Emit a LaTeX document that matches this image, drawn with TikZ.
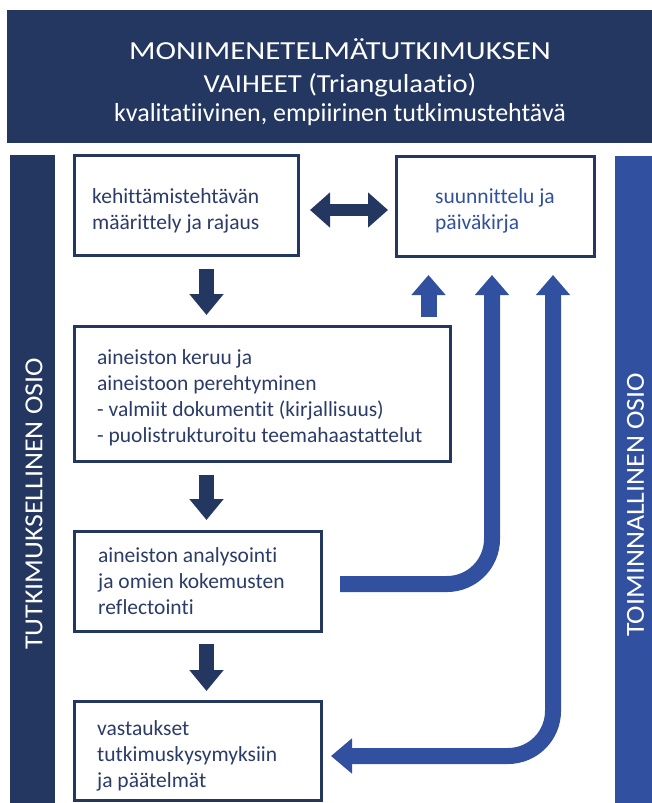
\documentclass[tikz,border=0pt]{standalone}
\usepackage{fontspec}
\setmainfont[Ligatures=NoCommon]{Carlito}
\newfontfamily\titleA[FakeStretch=1.19,Ligatures=NoCommon]{Carlito}
\newfontfamily\titleB[FakeStretch=1.1,Ligatures=NoCommon]{Carlito}
\newfontfamily\sidefont[FakeStretch=1.07,Ligatures=NoCommon]{Carlito}
\usetikzlibrary{arrows.meta}
\definecolor{navy}{HTML}{243761}
\definecolor{bblue}{HTML}{3250A0}
\definecolor{tnavy}{HTML}{2C3C68}
\tikzset{
  box/.style={draw=navy, line width=3pt, fill=white, inner sep=0pt, outer sep=0pt},
  boxtext/.style={anchor=base west, align=left, inner sep=0pt, text=tnavy, font=\fontsize{21.5}{26}\selectfont},
  navyarrow/.style={draw=navy, line width=15pt, -{Triangle[length=21pt,width=33pt]}},
  navydouble/.style={draw=navy, line width=12pt, {Triangle[length=20pt,width=34pt]}-{Triangle[length=20pt,width=34pt]}},
  bluearrow/.style={draw=bblue, line width=16pt, -{Triangle[length=20pt,width=33pt]}},
  bluedouble/.style={draw=bblue, line width=16pt, {Triangle[length=21pt,width=34pt]}-{Triangle[length=20pt,width=33pt]}},
  sidelabel/.style={text=white, rotate=90, inner sep=0pt, font=\sidefont\fontsize{26}{30}\selectfont},
  titletext/.style={text=white, anchor=base, inner sep=0pt}
}
\begin{document}
\begin{tikzpicture}[x=1pt,y=-1pt]
\useasboundingbox (0,0) rectangle (652,803);
\fill[white] (0,0) rectangle (652,803);
% banner
\node[fill=navy, inner sep=0pt, outer sep=0pt, minimum width=645pt, minimum height=133pt] (banner) at (329.5,76.5) {};
\node[titletext, font=\titleA\fontsize{26}{30}\selectfont] (t1) at (340,59) {MONIMENETELMÄTUTKIMUKSEN};
\node[titletext, font=\titleB\fontsize{26}{30}\selectfont] (t2) at (340,92) {VAIHEET (Triangulaatio)};
\node[titletext, font=\fontsize{26}{30}\selectfont] (t3) at (340,121) {kvalitatiivinen, empiirinen tutkimustehtävä};
% side bars
\node[fill=navy, inner sep=0pt, outer sep=0pt, minimum width=45pt, minimum height=648pt] (lbar) at (32.5,479) {};
\node[fill=bblue, inner sep=0pt, outer sep=0pt, minimum width=37pt, minimum height=647pt] (rbar) at (633.5,479.5) {};
\node[sidelabel] (llab) at (34,504) {TUTKIMUKSELLINEN OSIO};
\node[sidelabel] (rlab) at (635.5,505) {TOIMINNALLINEN OSIO};
% boxes
\node[box, minimum width=224pt, minimum height=100pt] (b1) at (186.5,205.5) {};
\node[box, minimum width=198pt, minimum height=100pt] (bs) at (495.5,206.5) {};
\node[box, minimum width=376pt, minimum height=135pt] (b2) at (262.5,394) {};
\node[box, minimum width=247pt, minimum height=100pt] (b3) at (198,581.5) {};
\node[box, minimum width=247pt, minimum height=99pt] (b4) at (198,751) {};
% texts (anchor = baseline of last line)
\node[boxtext] (tx1) at (92,229) {kehittämistehtävän\\määrittely ja rajaus};
\node[boxtext, text=bblue] (txs) at (435,229) {suunnittelu ja\\päiväkirja};
\node[boxtext] (tx2) at (97,442) {aineiston keruu ja\\aineistoon perehtyminen\\- valmiit dokumentit (kirjallisuus)\\- puolistrukturoitu teemahaastattelut};
\node[boxtext] (tx3) at (98,614) {aineiston analysointi\\ja omien kokemusten\\reflectointi};
\node[boxtext] (tx4) at (97,787) {vastaukset\\tutkimuskysymyksiin\\ja päätelmät};
% arrow end points
\coordinate (d1s) at (206.5,269); \coordinate (d1e) at (206.5,315);
\coordinate (d2s) at (206.5,475); \coordinate (d2e) at (206.5,520);
\coordinate (d3s) at (206.5,644); \coordinate (d3e) at (206.5,691);
\coordinate (hl) at (310,210); \coordinate (hr) at (388,210);
\coordinate (u1s) at (428.5,317); \coordinate (u1e) at (428.5,275);
\coordinate (u2s) at (340,584); \coordinate (u2c) at (492,584); \coordinate (u2e) at (492,275);
\coordinate (u3l) at (331,756); \coordinate (u3c) at (553,756); \coordinate (u3e) at (553,275);
% arrows
\draw[navyarrow] (d1s) -- (d1e);
\draw[navyarrow] (d2s) -- (d2e);
\draw[navyarrow] (d3s) -- (d3e);
\draw[navydouble] (hl) -- (hr);
\draw[bluearrow] (u1s) -- (u1e);
\draw[bluearrow, rounded corners=45pt] (u2s) -- (u2c) -- (u2e);
\draw[bluedouble, rounded corners=45pt] (u3l) -- (u3c) -- (u3e);
\end{tikzpicture}
\end{document}
